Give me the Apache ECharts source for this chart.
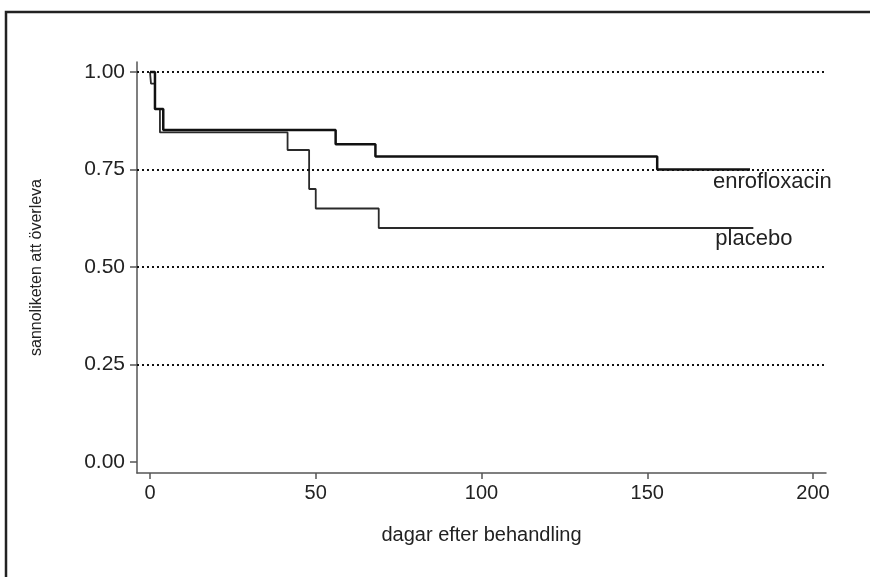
<!DOCTYPE html>
<html>
<head>
<meta charset="utf-8">
<script src="https://cdn.jsdelivr.net/npm/echarts@6/dist/echarts.min.js"></script>
<style>
html,body{margin:0;padding:0;background:#fff;}
#c{width:870px;height:577px;}
</style>
</head>
<body>
<div id="c"></div>
<script>
// Kaplan-Meier step data (days, survival probability)
var enroDays   = [0, 1.5, 4, 56, 68, 153, 181];
var enroSurv   = [1.00, 0.905, 0.851, 0.815, 0.783, 0.750, 0.750];
var placDays   = [0, 0.3, 1.5, 3, 41.5, 48, 50, 69, 182];
var placSurv   = [1.00, 0.97, 0.905, 0.845, 0.80, 0.70, 0.65, 0.60, 0.60];
var seriesNames = ['enrofloxacin', 'placebo'];
var xTicks = [0, 50, 100, 150, 200];
var yTicks = [0, 0.25, 0.5, 0.75, 1.0];
var gridValues = [0.25, 0.5, 0.75, 1.0];

function pairs(xs, ys){ return xs.map(function(x,i){ return [x, ys[i]]; }); }

var FONT = '"Liberation Sans", Arial, sans-serif';
var chart = echarts.init(document.getElementById('c'), null, {renderer:'canvas'});
chart.setOption({
  animation:false,
  backgroundColor:'#ffffff',
  graphic:[{
    type:'rect', shape:{x:6, y:12, width:900, height:700},
    style:{fill:null, stroke:'#222', lineWidth:2.5}, silent:true, z:-1
  }],
  grid:{left:137, right:44, top:62, bottom:104},
  xAxis:{
    type:'value', min:-3.92, max:203.92,
    name:'dagar efter behandling', nameLocation:'middle', nameGap:52,
    nameTextStyle:{fontFamily:FONT, fontSize:20, color:'#222'},
    axisLine:{show:true, onZero:false, lineStyle:{color:'#555', width:1.5}},
    axisTick:{show:true, customValues:xTicks, length:6, lineStyle:{color:'#555', width:1.5}},
    axisLabel:{customValues:xTicks, fontFamily:FONT, fontSize:20, color:'#222', margin:10},
    splitLine:{show:false}
  },
  yAxis:{
    type:'value', min:-0.0282, max:1.0256,
    name:'sannoliketen att överleva', nameLocation:'middle', nameGap:92,
    nameTextStyle:{fontFamily:FONT, fontSize:16, color:'#222'},
    axisLine:{show:true, onZero:false, lineStyle:{color:'#555', width:1.5}},
    axisTick:{show:true, customValues:yTicks, length:7, lineStyle:{color:'#555', width:1.5}},
    axisLabel:{customValues:yTicks, fontFamily:FONT, fontSize:21, color:'#222', margin:12,
      formatter:function(v){ return v.toFixed(2); }},
    splitLine:{show:false}
  },
  series:[
    {
      name:seriesNames[0], type:'line', step:'end', showSymbol:false, symbol:'none',
      data:pairs(enroDays, enroSurv),
      lineStyle:{color:'#111', width:2.5}, z:3,
      endLabel:{show:true, formatter:seriesNames[0], fontFamily:FONT, fontSize:22, color:'#222',
        distance:0, offset:[-37, 12]},
      markLine:{
        silent:true, symbol:'none', label:{show:false},
        lineStyle:{color:'#111', type:[2,3], width:2},
        data:gridValues.map(function(v){ return {yAxis:v}; })
      }
    },
    {
      name:seriesNames[1], type:'line', step:'end', showSymbol:false, symbol:'none',
      data:pairs(placDays, placSurv),
      lineStyle:{color:'#2a2a2a', width:1.8}, z:2,
      endLabel:{show:true, formatter:seriesNames[1], fontFamily:FONT, fontSize:22, color:'#222',
        distance:0, offset:[-38, 11]}
    }
  ]
});
</script>
</body>
</html>
